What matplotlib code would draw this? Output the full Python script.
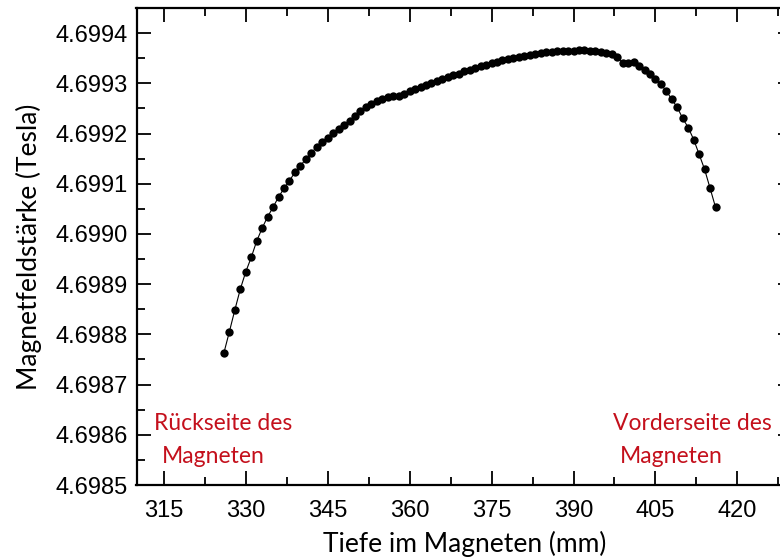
"""
Magnetic field strength along the depth of the magnet.

Recreates a scatter-line plot of the measured field (Tesla) versus
the depth inside the magnet (mm), with red notes marking the back
and front side of the magnet.
"""

import matplotlib

matplotlib.use("Agg")

import matplotlib.pyplot as plt
from matplotlib.ticker import FormatStrFormatter, MultipleLocator

# Depth in the magnet (mm), one reading per millimetre
depth_mm = list(range(326, 417))

# Field strength (Tesla)
field_tesla = [
    4.6987632, 4.6988052, 4.6988486, 4.6988900, 4.6989246, 4.6989532,
    4.6989858, 4.6990116, 4.6990342, 4.6990532, 4.6990736, 4.6990906,
    4.6991062, 4.6991226, 4.6991362, 4.6991488, 4.6991616, 4.6991732,
    4.6991836, 4.6991920, 4.6992012, 4.6992092, 4.6992180, 4.6992252,
    4.6992346, 4.6992440, 4.6992520, 4.6992580, 4.6992640, 4.6992686,
    4.6992732, 4.6992746, 4.6992740, 4.6992780, 4.6992846, 4.6992886,
    4.6992932, 4.6992972, 4.6993012, 4.6993046, 4.6993086, 4.6993122,
    4.6993158, 4.6993192, 4.6993240, 4.6993272, 4.6993306, 4.6993340,
    4.6993372, 4.6993406, 4.6993432, 4.6993460, 4.6993486, 4.6993506,
    4.6993532, 4.6993552, 4.6993572, 4.6993592, 4.6993606, 4.6993620,
    4.6993632, 4.6993640, 4.6993646, 4.6993652, 4.6993652, 4.6993660,
    4.6993660, 4.6993652, 4.6993640, 4.6993626, 4.6993606, 4.6993580,
    4.6993526, 4.6993412, 4.6993400, 4.6993426, 4.6993346, 4.6993266,
    4.6993186, 4.6993092, 4.6992980, 4.6992846, 4.6992680, 4.6992520,
    4.6992300, 4.6992120, 4.6991880, 4.6991586, 4.6991286, 4.6990912,
    4.6990532,
]

x_ticks = [315, 330, 345, 360, 375, 390, 405, 420]

# (x, y, text) notes in data coordinates
notes = [
    (313.2, 4.6986226, "Rückseite des"),
    (314.6, 4.6985566, "Magneten"),
    (397.2, 4.6986226, "Vorderseite des"),
    (398.5, 4.6985566, "Magneten"),
]

TICK_FONT = ["Liberation Sans Narrow", "Liberation Sans", "DejaVu Sans"]
LABEL_FONT = ["Lato", "DejaVu Sans"]
NOTE_RED = "#c4101c"


def main():
    fig = plt.figure(figsize=(7.8, 5.58), dpi=100)
    # right edge of the frame sits just outside the picture, as in the original
    ax = fig.add_axes([0.175, 0.1308, 0.8404, 0.8548])

    ax.plot(depth_mm, field_tesla, color="black", linewidth=0.8,
            marker="o", markersize=6, markeredgewidth=0)

    ax.set_xlim(310, 430)
    ax.set_ylim(4.69850, 4.69945)
    ax.set_xticks(x_ticks)
    ax.xaxis.set_minor_locator(MultipleLocator(7.5))
    ax.yaxis.set_major_locator(MultipleLocator(0.0001))
    ax.yaxis.set_minor_locator(MultipleLocator(0.00005))
    ax.yaxis.set_major_formatter(FormatStrFormatter("%.4f"))

    ax.tick_params(which="both", direction="in", top=True, right=True,
                   width=1.3)
    ax.tick_params(which="major", length=10)
    ax.tick_params(which="minor", length=6)
    ax.tick_params(axis="x", which="major", pad=11)
    ax.tick_params(axis="y", which="major", pad=6)
    for label in ax.get_xticklabels() + ax.get_yticklabels():
        label.set_fontfamily(TICK_FONT)
        label.set_fontsize(17)

    for spine in ax.spines.values():
        spine.set_linewidth(1.6)

    ax.set_xlabel("Tiefe im Magneten (mm)", family=LABEL_FONT,
                  fontsize=19, labelpad=6)
    ax.set_ylabel("Magnetfeldstärke (Tesla)", family=LABEL_FONT,
                  fontsize=19, labelpad=10)

    for x, y, text in notes:
        ax.text(x, y, text, color=NOTE_RED, family=LABEL_FONT,
                fontsize=16.5, ha="left", va="center")

    fig.savefig("out.png", dpi=100)
    plt.close(fig)


if __name__ == "__main__":
    main()
